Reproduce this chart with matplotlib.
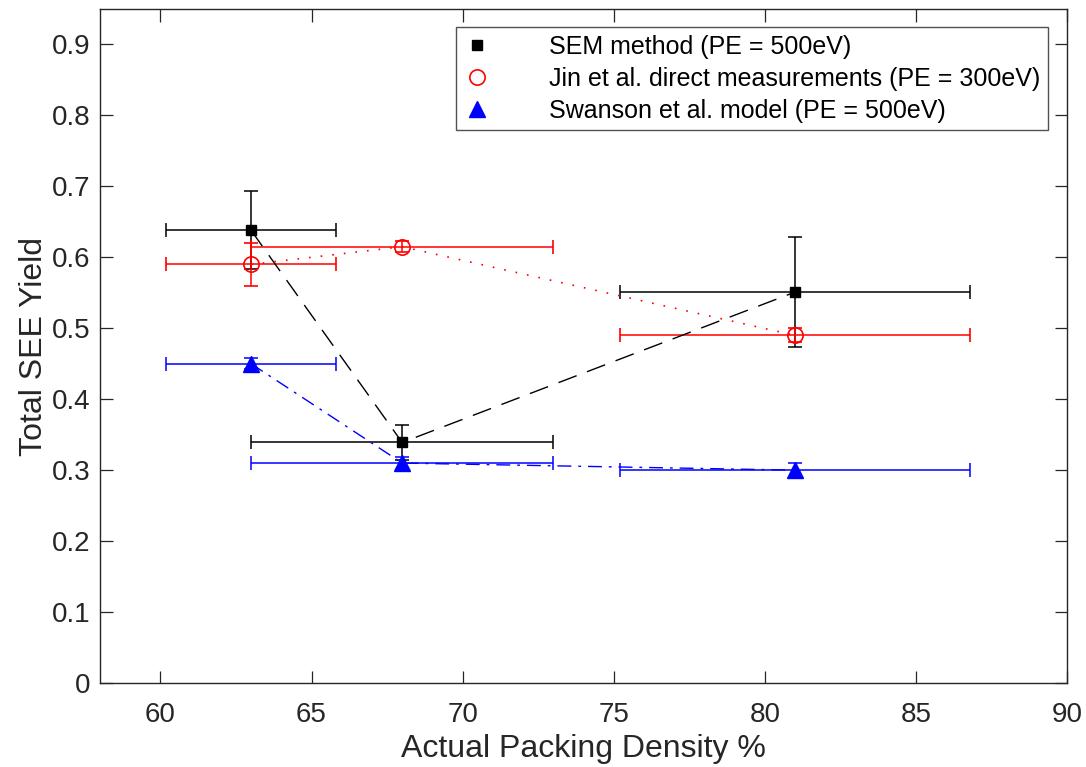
import matplotlib
matplotlib.use("Agg")
import matplotlib.pyplot as plt
from matplotlib.lines import Line2D

plt.rcParams['font.family'] = ['Liberation Sans', 'DejaVu Sans']

# Data
density = [63, 68, 81]
density_err = [2.8, 5.0, 5.8]

sem_yield = [0.638, 0.339, 0.551]
sem_err = [0.055, 0.024, 0.077]

jin_yield = [0.590, 0.615, 0.490]
jin_err = [0.030, 0.008, 0.010]

swanson_yield = [0.450, 0.310, 0.300]
swanson_err = [0.008, 0.008, 0.010]

labels = ["SEM method (PE = 500eV)",
          "Jin et al. direct measurements (PE = 300eV)",
          "Swanson et al. model (PE = 500eV)"]

xticks = [60, 65, 70, 75, 80, 85, 90]
yticks = [0, 0.1, 0.2, 0.3, 0.4, 0.5, 0.6, 0.7, 0.8, 0.9]

fig = plt.figure(figsize=(10.86, 7.67), dpi=100)
ax = fig.add_axes([100/1086, 1-683/767, (1067-100)/1086, (683-9)/767])

cap = 4.7
ax.errorbar(density, sem_yield, yerr=sem_err, xerr=density_err,
            color='black', linestyle=(0, (14, 8)), linewidth=1.0,
            marker='s', markersize=7, markerfacecolor='black',
            elinewidth=1.1, capsize=cap, capthick=1.1, zorder=3)
ax.errorbar(density, jin_yield, yerr=jin_err, xerr=density_err,
            color='red', linestyle=(0, (1, 6)), linewidth=1.2,
            marker='o', markersize=11, markerfacecolor='none',
            markeredgewidth=1.2,
            elinewidth=1.1, capsize=cap, capthick=1.1, zorder=3)
ax.errorbar(density, swanson_yield, yerr=swanson_err, xerr=density_err,
            color='blue', linestyle=(0, (10, 5, 2, 5)), linewidth=1.0,
            marker='^', markersize=11, markerfacecolor='blue',
            elinewidth=1.1, capsize=cap, capthick=1.1, zorder=3)

ax.set_xlim(58, 90)
ax.set_ylim(0, 0.95)
ax.set_xticks(xticks)
ax.set_xticklabels([str(t) for t in xticks])
ax.set_yticks(yticks)
ax.set_yticklabels(['0' if t == 0 else f"{t:.1f}" for t in yticks])

tc = '#262626'
ax.tick_params(direction='in', length=9, width=0.9, top=True, right=True,
               labelsize=20, colors=tc)
ax.tick_params(axis='x', pad=14)
ax.tick_params(axis='y', pad=7)
for s in ax.spines.values():
    s.set_color(tc)
    s.set_linewidth(1.0)

ax.set_xlabel("Actual Packing Density %", fontsize=23, color=tc, labelpad=4)
ax.set_ylabel("Total SEE Yield", fontsize=23, color=tc, labelpad=2)

handles = [
    Line2D([], [], color='black', marker='s', markersize=7, linestyle='none'),
    Line2D([], [], color='red', marker='o', markersize=11, markerfacecolor='none',
           markeredgewidth=1.2, linestyle='none'),
    Line2D([], [], color='blue', marker='^', markersize=11, linestyle='none'),
]
leg = ax.legend(handles, labels, loc='upper right', bbox_to_anchor=(0.980, 0.973),
                fontsize=18.0, frameon=True, fancybox=False, borderpad=0.3,
                labelspacing=0.32, handlelength=1.05, handletextpad=2.35,
                borderaxespad=0)
leg.get_frame().set_edgecolor(tc)
leg.get_frame().set_linewidth(1.0)

fig.savefig("out.png", dpi=100)
